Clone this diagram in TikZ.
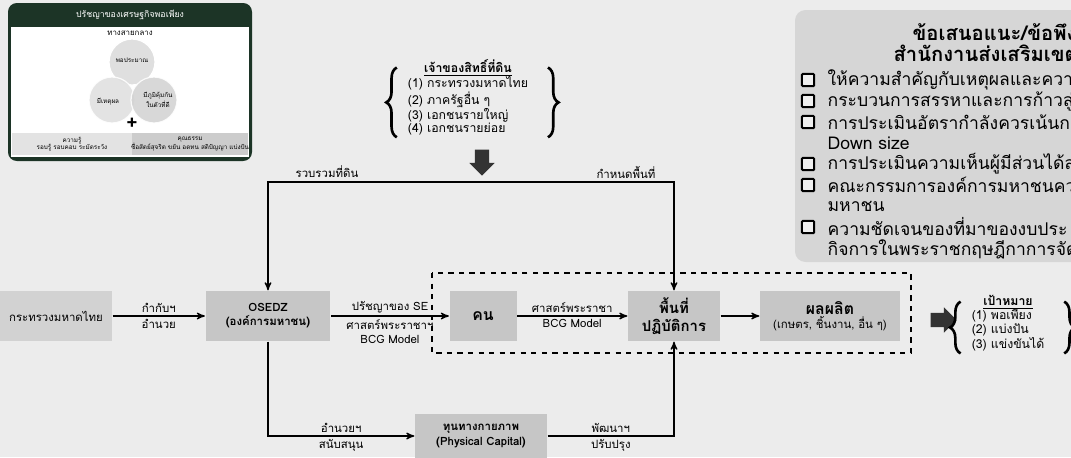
\documentclass[tikz,border=0pt]{standalone}
\usepackage{fontspec}
\setmainfont[Script=Thai]{Loma}
\usepackage{tikz}
\usetikzlibrary{positioning,arrows,shapes.arrows,decorations.pathreplacing}

\definecolor{paper}{RGB}{236,236,236}
\definecolor{boxgray}{RGB}{198,198,198}
\definecolor{mildgray}{RGB}{210,210,210}
\definecolor{panelgray}{RGB}{214,214,214}
\definecolor{pine}{RGB}{28,52,38}

\newcommand{\mainfs}{\fontsize{6.5}{8}\selectfont}
\newcommand{\listfs}{\fontsize{7}{7.6}\selectfont}
\newcommand{\notefs}{\fontsize{10}{11}\selectfont}
\newcommand{\weefs}{\fontsize{3.6}{4.2}\selectfont}

\begin{document}
\begin{tikzpicture}[>=stealth',x=0.02cm,y=-0.02cm,line width=0.7pt,
  box/.style={fill=boxgray,minimum width=#1,minimum height=1cm,align=center,font=\mainfs,inner sep=1pt},
  lbl/.style={font=\mainfs,inner sep=1.5pt,align=center},
  fatarrow/.style={single arrow,fill=black!80,draw=none,inner sep=3.7pt,minimum width=0.5cm,minimum height=0.52cm,single arrow head extend=3.2pt},
  curly/.style={decorate,decoration={brace,amplitude=6pt},line width=1.5pt},
  chk/.style={draw,line width=1.2pt,rounded corners=0.6pt,minimum size=7pt,inner sep=0pt,fill=white!60!panelgray},
  note/.style={font=\notefs,anchor=west,inner sep=0pt},
  wee/.style={font=\weefs,align=center,inner sep=0pt}]
	\useasboundingbox (0,0) rectangle (1071,457);
	\clip (0,0) rectangle (1071,457);
	\fill[paper] (0,0) rectangle (1071,457);

	\fill[pine,rounded corners=5pt] (8,3) rectangle (252,161);
	\fill[white] (11,27) rectangle (249,157);
	\node[font=\fontsize{5}{6}\selectfont,text=white] (sethead) at (130,15) {ปรัชญาของเศรษฐกิจพอเพียง};
	\node[font=\fontsize{4.5}{5}\selectfont] (middle) at (130,33) {ทางสายกลาง};
	\fill[gray!25,draw=white] (132,62) circle [radius=0.46cm];
	\fill[gray!25,draw=white,opacity=.85] (112,100) circle [radius=0.46cm];
	\fill[gray!35,draw=white,opacity=.85] (154,100) circle [radius=0.46cm];
	\node[wee] (modest) at (132,60) {พอประมาณ};
	\node[wee] (reason) at (108,102) {มีเหตุผล};
	\node[wee] (immune) at (158,100) {มีภูมิคุ้มกัน\\ในตัวที่ดี};
	\node[font=\bfseries\fontsize{11}{11}\selectfont,inner sep=0pt] (plus) at (132,124) {+};
	\fill[gray!22] (12,133) rectangle (132,155);
	\fill[gray!40] (132,133) rectangle (248,155);
	\node[wee] (know) at (72,144) {ความรู้\\รอบรู้ รอบคอบ ระมัดระวัง};
	\node[wee] (virtue) at (190,144) {คุณธรรม\\ซื่อสัตย์สุจริต ขยัน อดทน สติปัญญา แบ่งปัน};

	\fill[panelgray,rounded corners=6pt] (795,10) rectangle (1100,262);
	\node[note,font=\fontsize{11.5}{12}\selectfont\bfseries] (advice) at (912,32) {ข้อเสนอแนะ/ข้อพึง};
	\node[note,font=\fontsize{11.5}{12}\selectfont\bfseries] (office) at (893,53) {สำนักงานส่งเสริมเขต};
	\node[chk] (c1) at (808,80) {};
	\node[chk] (c2) at (808,101) {};
	\node[chk] (c3) at (808,122) {};
	\node[chk] (c4) at (808,164) {};
	\node[chk] (c5) at (808,185) {};
	\node[chk] (c6) at (808,227) {};
	\node[note] (n1) at (827,80) {ให้ความสำคัญกับเหตุผลและควา};
	\node[note] (n2) at (827,101) {กระบวนการสรรหาและการก้าวสู่};
	\node[note] (n3) at (827,122) {การประเมินอัตรากำลังควรเน้นก};
	\node[note] (n3b) at (827,143) {Down size};
	\node[note] (n4) at (827,164) {การประเมินความเห็นผู้มีส่วนได้ส่};
	\node[note] (n5) at (827,185) {คณะกรรมการองค์การมหาชนคว};
	\node[note] (n5b) at (827,206) {มหาชน};
	\node[note] (n6) at (827,227) {ความชัดเจนของที่มาของงบประ};
	\node[note] (n6b) at (827,248) {กิจการในพระราชกฤษฎีกาการจัดตั้};

	\node[font=\listfs,inner sep=1pt] (owners) at (468,98) {\begin{tabular}{@{}l@{}}\multicolumn{1}{@{}c@{}}{\underline{\bfseries เจ้าของสิทธิ์ที่ดิน}}\\(1) กระทรวงมหาดไทย\\(2) ภาครัฐอื่น ๆ\\(3) เอกชนรายใหญ่\\(4) เอกชนรายย่อย\end{tabular}};
	\draw[curly] ([xshift=-5pt,yshift=1pt]owners.south west) -- ([xshift=-5pt,yshift=-6pt]owners.north west);
	\draw[curly] ([xshift=10pt,yshift=-6pt]owners.north east) -- ([xshift=10pt,yshift=1pt]owners.south east);
	\node[fatarrow,rotate=-90] (drop) at (482,159) {};

	\node[box=2.24cm,fill=mildgray] (moi) at (56,316) {กระทรวงมหาดไทย};
	\node[box=2.5cm,font=\mainfs\bfseries] (osedz) at (268,316) {OSEDZ\\(องค์การมหาชน)};
	\node[box=1.34cm,font=\fontsize{9}{10}\selectfont\bfseries] (khon) at (483,316) {คน};
	\node[box=1.84cm,font=\fontsize{8.5}{10.5}\selectfont\bfseries] (area) at (674,316) {พื้นที่\\ปฏิบัติการ};
	\node[box=2.8cm] (yield) at (830,316) {{\fontsize{9}{11}\selectfont\bfseries ผลผลิต}\\(เกษตร, ชิ้นงาน, อื่น ๆ)};
	\node[box=2.64cm,minimum height=0.9cm,font=\mainfs\bfseries] (capital) at (481,436) {ทุนทางกายภาพ\\(Physical Capital)};
	\draw[dashed,line width=0.8pt] (432,273) rectangle (911,353);

	\node[fatarrow] (push) at (940,320) {};
	\node[font=\listfs,inner sep=1pt] (goals) at (1008,324) {\begin{tabular}{@{}l@{}}\multicolumn{1}{@{}c@{}}{\underline{\bfseries เป้าหมาย}}\\(1) พอเพียง\\(2) แบ่งปัน\\(3) แข่งขันได้\end{tabular}};
	\draw[curly] ([xshift=-5pt,yshift=1pt]goals.south west) -- ([xshift=-5pt,yshift=-5pt]goals.north west);
	\draw[curly] ([xshift=10pt,yshift=-5pt]goals.north east) -- ([xshift=10pt,yshift=1pt]goals.south east);

	\draw[->] (moi) -- node[lbl,above]{กำกับฯ} node[lbl,below]{อำนวย} (osedz);
	\draw[->] (osedz) -- node[lbl,above]{ปรัชญาของ SE} node[lbl,below]{ศาสตร์พระราชาฯ\\BCG Model} (khon);
	\draw[->] (khon) -- node[lbl,above]{ศาสตร์พระราชา} node[lbl,below]{BCG Model} (area);
	\draw[->] (area) -- (yield);

	\coordinate (ridge) at (480,182);
	\draw[<->] (osedz.north) |- (ridge) -| (area.north);
	\node[lbl] (gather) at (327,172) {รวบรวมที่ดิน};
	\node[lbl] (zone) at (626,172) {กำหนดพื้นที่};

	\draw[->] (osedz.south) |- node[lbl,above,pos=0.75]{อำนวยฯ} node[lbl,below,pos=0.75]{สนับสนุน} (capital.west);
	\draw[->] (capital.east) -| node[lbl,above,pos=0.25]{พัฒนาฯ} node[lbl,below,pos=0.25]{ปรับปรุง} (area.south);
\end{tikzpicture}
\end{document}
